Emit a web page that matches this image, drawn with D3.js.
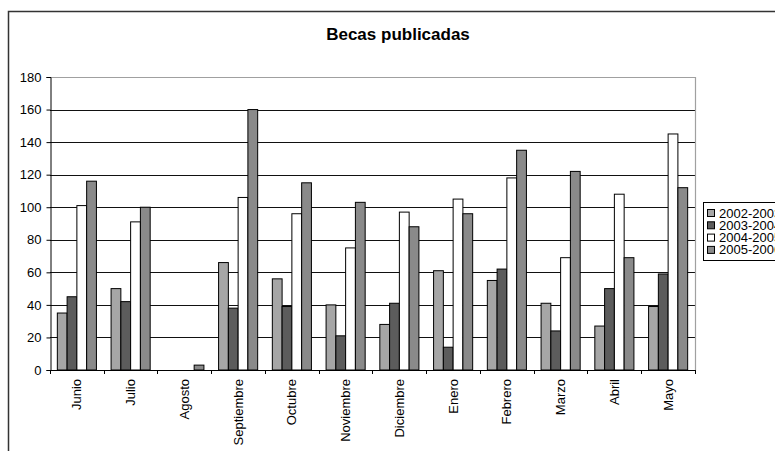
<!DOCTYPE html>
<html>
<head>
<meta charset="utf-8">
<script src="https://cdn.jsdelivr.net/npm/d3@7"></script>
<style>
  html, body { margin: 0; padding: 0; background: #fff; }
  svg { display: block; font-family: "Liberation Sans", Arial, sans-serif; }
</style>
</head>
<body>
<svg id="chart" width="775" height="451"></svg>
<script>
const title = "Becas publicadas";
const months = ["Junio","Julio","Agosto","Septiembre","Octubre","Noviembre","Diciembre","Enero","Febrero","Marzo","Abril","Mayo"];
const seriesNames = ["2002-2003","2003-2004","2004-2005","2005-2006"];
const s2002 = [35, 50, 0, 66, 56, 40, 28, 61, 55, 41, 27, 39];
const s2003 = [45, 42, 0, 38, 39, 21, 41, 14, 62, 24, 50, 59];
const s2004 = [101, 91, 0, 106, 96, 75, 97, 105, 118, 69, 108, 145];
const s2005 = [116, 100, 3, 160, 115, 103, 88, 96, 135, 122, 69, 112];
const yTicks = [0, 20, 40, 60, 80, 100, 120, 140, 160, 180];
const colors = ["#a6a6a6", "#5c5c5c", "#ffffff", "#8a8a8a"];

const allSeries = [s2002, s2003, s2004, s2005];
const svg = d3.select("#chart");

// outer chart border
svg.append("rect")
  .attr("x", 8.5).attr("y", 11.5)
  .attr("width", 800).attr("height", 500)
  .attr("fill", "#fff").attr("stroke", "#333").attr("stroke-width", 1.5);

const pLeft = 50, pRight = 695, pTop = 77, pBottom = 370;

const x = d3.scaleBand().domain(months).range([pLeft, pRight])
  .paddingInner(0.2727).paddingOuter(0.1364);
const xs = d3.scaleBand().domain(seriesNames).range([0, x.bandwidth()]).padding(0);
const y = d3.scaleLinear().domain([0, 180]).range([pBottom, pTop]);

// gridlines
svg.append("g").selectAll("line")
  .data(yTicks.filter(t => t > 0 && t < 180))
  .join("line")
  .attr("x1", pLeft).attr("x2", pRight)
  .attr("y1", d => Math.round(y(d)) + 0.5).attr("y2", d => Math.round(y(d)) + 0.5)
  .attr("stroke", "#111").attr("stroke-width", 1);

// plot area border (top & right) gray
svg.append("path")
  .attr("d", `M${pLeft},${Math.round(y(180)) + 0.5}H${pRight + 0.5}V${pBottom}`)
  .attr("fill", "none").attr("stroke", "#a0a0a0").attr("stroke-width", 1.2);

// bars
const groups = svg.append("g").selectAll("g")
  .data(seriesNames)
  .join("g")
  .attr("fill", (d, i) => colors[i]);

groups.each(function(name, si) {
  d3.select(this).selectAll("rect")
    .data(allSeries[si].map((v, i) => ({v, m: months[i]})).filter(d => d.v > 0))
    .join("rect")
    .attr("x", d => x(d.m) + xs(name))
    .attr("y", d => y(d.v))
    .attr("width", xs.bandwidth())
    .attr("height", d => y(0) - y(d.v))
    .attr("stroke", "#000")
    .attr("stroke-width", 1);
});

// y axis
const yAxis = d3.axisLeft(y).tickValues(yTicks).tickSize(4).tickPadding(5);
const gy = svg.append("g")
  .attr("transform", `translate(${pLeft + 0.5},0)`)
  .call(yAxis);
gy.select(".domain").attr("stroke", "#000");
gy.selectAll(".tick line").attr("stroke", "#000");
gy.selectAll(".tick text").attr("font-size", 13).attr("fill", "#000")
  .attr("font-family", "Liberation Sans, Arial, sans-serif");

// x axis with tick marks at category boundaries
const gx = svg.append("g");
gx.append("line")
  .attr("x1", pLeft).attr("x2", pRight + 1)
  .attr("y1", pBottom + 0.5).attr("y2", pBottom + 0.5)
  .attr("stroke", "#000");
const step = x.step();
gx.selectAll("line.tk")
  .data(d3.range(months.length + 1))
  .join("line").attr("class", "tk")
  .attr("x1", i => Math.round(pLeft + i * step) + 0.5)
  .attr("x2", i => Math.round(pLeft + i * step) + 0.5)
  .attr("y1", pBottom).attr("y2", pBottom + 4)
  .attr("stroke", "#000");
gx.selectAll("text")
  .data(months)
  .join("text")
  .attr("transform", d => `translate(${x(d) + x.bandwidth() / 2 + 4.5},${pBottom + 9}) rotate(-90)`)
  .attr("text-anchor", "end")
  .attr("font-size", 13)
  .attr("fill", "#000")
  .text(d => d);

// title
svg.append("text")
  .attr("x", 398).attr("y", 40)
  .attr("text-anchor", "middle")
  .attr("font-size", 17).attr("font-weight", "bold")
  .attr("fill", "#000")
  .text(title);

// legend
const lg = svg.append("g").attr("transform", "translate(703,202)");
lg.append("rect")
  .attr("x", 0.5).attr("y", 0.5).attr("width", 120).attr("height", 58)
  .attr("fill", "#fff").attr("stroke", "#000").attr("stroke-width", 1);
const items = lg.selectAll("g.item")
  .data(seriesNames)
  .join("g").attr("class", "item")
  .attr("transform", (d, i) => `translate(4,${7 + i * 12.3})`);
items.append("rect")
  .attr("x", 0.5).attr("y", 0.5).attr("width", 7).attr("height", 7)
  .attr("fill", (d, i) => colors[i]).attr("stroke", "#000").attr("stroke-width", 1);
items.append("text")
  .attr("x", 12).attr("y", 8.5)
  .attr("font-size", 13).attr("fill", "#000")
  .text(d => d);
</script>
</body>
</html>
